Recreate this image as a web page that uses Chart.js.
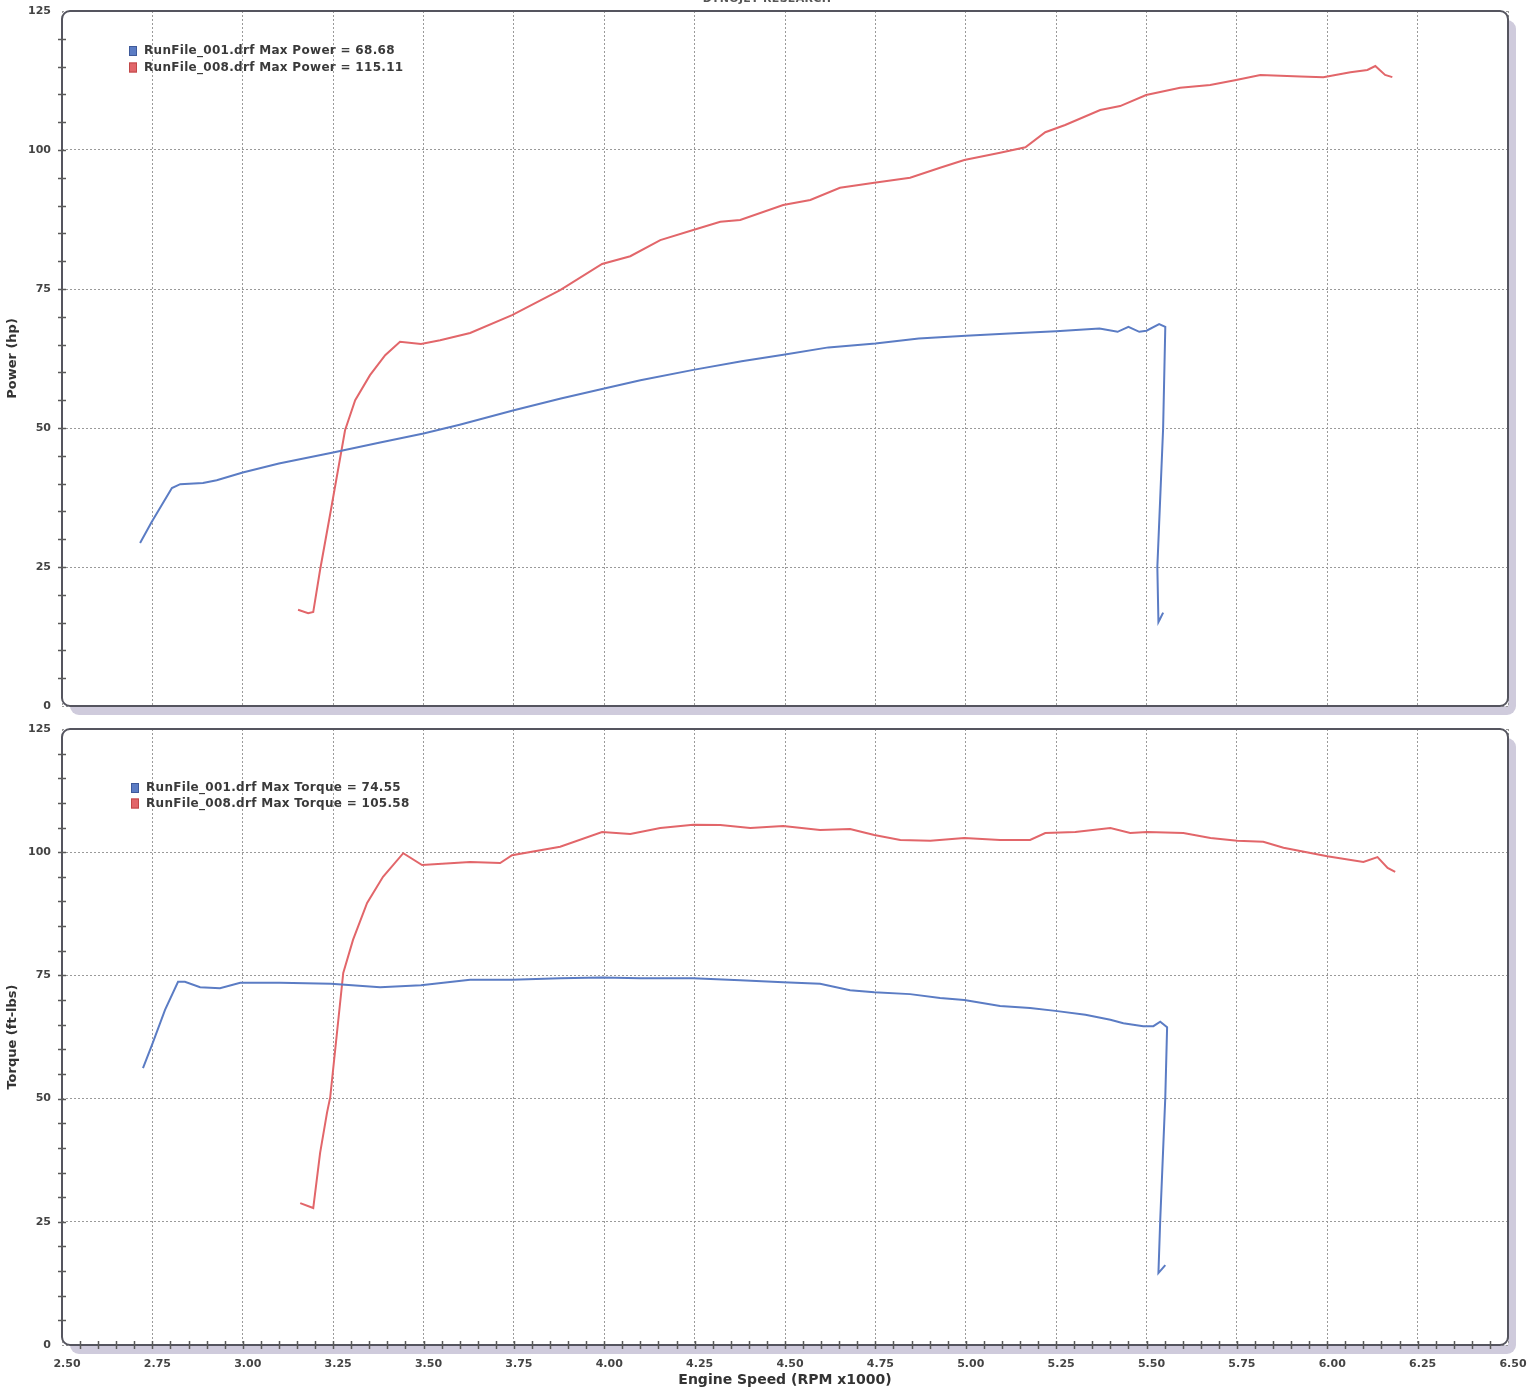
<!DOCTYPE html>
<html><head><meta charset="utf-8">
<script src="https://cdn.jsdelivr.net/npm/chart.js@4"></script>
<style>
html,body{margin:0;padding:0;background:#fff;}
#wrap{position:relative;width:1538px;height:1391px;overflow:hidden;background:#fff}
#c1{position:absolute;left:0;top:0}
#c2{position:absolute;left:0;top:716px}
</style></head><body>
<div id="wrap">
<canvas id="c1" width="1538" height="716" style="width:1538px;height:716px"></canvas>
<canvas id="c2" width="1538" height="675" style="width:1538px;height:675px"></canvas>
</div>
<script>
// ---------- DATA ----------
const runNames = ["RunFile_001.drf", "RunFile_008.drf"];
const maxPower = ["68.68", "115.11"];
const maxTorque = ["74.55", "105.58"];
const xTicks = [2.50,2.75,3.00,3.25,3.50,3.75,4.00,4.25,4.50,4.75,5.00,5.25,5.50,5.75,6.00,6.25,6.50];
const yTicks = [0,25,50,75,100,125];

// Run 001 power (hp)
const rpmP001 = [2.716,2.748,2.804,2.827,2.89,2.928,3.0,3.10,3.25,3.38,3.50,3.60,3.75,3.88,4.0,4.10,4.25,4.38,4.50,4.62,4.75,4.87,5.0,5.12,5.25,5.37,5.42,5.45,5.48,5.50,5.535,5.552,5.546,5.53,5.533,5.537,5.546];
const hp001   = [29.3,33.1,39.2,39.9,40.1,40.6,42.0,43.6,45.6,47.4,49.0,50.6,53.2,55.3,57.1,58.6,60.5,62.0,63.2,64.5,65.2,66.1,66.6,67.0,67.4,67.9,67.3,68.2,67.3,67.5,68.7,68.2,50.0,25.0,15.1,15.6,16.8];

// Run 008 power (hp)
const rpmP008 = [3.153,3.181,3.195,3.214,3.244,3.283,3.311,3.352,3.394,3.435,3.493,3.546,3.629,3.745,3.878,3.994,4.072,4.155,4.246,4.321,4.376,4.495,4.57,4.652,4.747,4.846,4.929,4.996,5.095,5.165,5.22,5.275,5.372,5.427,5.499,5.593,5.676,5.748,5.815,5.926,5.989,6.064,6.111,6.133,6.16,6.18];
const hp008   = [17.3,16.7,16.9,24.5,35.3,49.6,55.0,59.5,63.1,65.5,65.1,65.8,67.1,70.3,74.8,79.5,80.9,83.8,85.6,87.1,87.4,90.1,91.0,93.2,94.1,95.0,96.8,98.2,99.5,100.5,103.2,104.5,107.2,107.9,109.9,111.2,111.7,112.6,113.5,113.2,113.1,114.0,114.4,115.1,113.5,113.1];

// Run 001 torque (ft-lbs)
const rpmT001 = [2.724,2.749,2.785,2.821,2.84,2.882,2.937,2.993,3.103,3.244,3.38,3.493,3.629,3.745,3.878,3.994,4.1,4.246,4.376,4.495,4.597,4.68,4.747,4.846,4.929,4.996,5.095,5.178,5.248,5.331,5.40,5.436,5.491,5.519,5.538,5.557,5.552,5.538,5.533,5.552];
const tq001   = [56.2,60.9,68.0,73.7,73.7,72.6,72.4,73.5,73.5,73.3,72.6,73.0,74.1,74.1,74.4,74.55,74.4,74.4,74.0,73.6,73.3,72.0,71.6,71.2,70.4,70.0,68.8,68.4,67.8,67.0,66.0,65.3,64.7,64.7,65.6,64.5,50.3,25.4,14.6,16.2];

// Run 008 torque (ft-lbs)
const rpmT008 = [3.159,3.195,3.214,3.233,3.242,3.278,3.305,3.344,3.388,3.444,3.496,3.629,3.712,3.745,3.878,3.994,4.072,4.155,4.246,4.321,4.404,4.495,4.597,4.68,4.747,4.819,4.902,4.996,5.095,5.178,5.22,5.303,5.40,5.455,5.502,5.602,5.677,5.751,5.823,5.879,6.0,6.1,6.139,6.167,6.188];
const tq008   = [28.8,27.8,39.0,47.1,50.3,75.5,82.2,89.7,95.0,99.8,97.4,98.0,97.8,99.4,101.1,104.1,103.7,104.9,105.58,105.5,104.9,105.3,104.5,104.7,103.5,102.5,102.3,102.9,102.5,102.5,103.9,104.1,104.9,103.9,104.1,103.9,102.9,102.3,102.1,100.9,99.2,98.0,99.0,96.8,96.0];

// ---------- STYLE ----------
const BLUE = '#5b7cc4', RED = '#e2666a';
const FONT = '"DejaVu Sans", Verdana, sans-serif';
const pts = (xs, ys) => xs.map((x, i) => ({x, y: ys[i]}));

function rr(ctx, x, y, w, h, r){
  ctx.beginPath();
  ctx.moveTo(x+r, y); ctx.lineTo(x+w-r, y); ctx.arcTo(x+w, y, x+w, y+r, r);
  ctx.lineTo(x+w, y+h-r); ctx.arcTo(x+w, y+h, x+w-r, y+h, r);
  ctx.lineTo(x+r, y+h); ctx.arcTo(x, y+h, x, y+h-r, r);
  ctx.lineTo(x, y+r); ctx.arcTo(x, y, x+r, y, r); ctx.closePath();
}

function makePlugin(cfg){
  return {
    id: 'dynoFrame',
    beforeDraw(chart){
      const a = chart.chartArea, ctx = chart.ctx;
      ctx.save();
      ctx.fillStyle = '#cfcbdc';
      rr(ctx, a.left+8, a.top+9, a.right-a.left, a.bottom-a.top, 9); ctx.fill();
      ctx.fillStyle = '#ffffff';
      ctx.fillRect(a.left, a.top, a.right-a.left, a.bottom-a.top);
      ctx.restore();
    },
    beforeDatasetsDraw(chart){
      const a = chart.chartArea, ctx = chart.ctx;
      const ys = chart.scales.y, xs = chart.scales.x;
      ctx.save();
      ctx.strokeStyle = '#55555f'; ctx.lineWidth = 2;
      rr(ctx, a.left, a.top, a.right-a.left, a.bottom-a.top, 8); ctx.stroke();
      ctx.strokeStyle = '#5a5a5a'; ctx.lineWidth = 1.5;
      for (let k = 1; k < 25; k++){
        const py = Math.round(ys.getPixelForValue(k*5)) + 0.5;
        ctx.beginPath(); ctx.moveTo(a.left-4, py); ctx.lineTo(a.left+4, py); ctx.stroke();
      }
      if (cfg.xMinor){
        for (let k = 1; k < 80; k++){
          const px = Math.round(xs.getPixelForValue(2.5 + k*0.05)) + 0.5;
          ctx.beginPath(); ctx.moveTo(px, a.bottom-4); ctx.lineTo(px, a.bottom+4); ctx.stroke();
        }
      }
      ctx.restore();
    },
    afterDraw(chart){
      const ctx = chart.ctx;
      ctx.save();
      ctx.font = 'bold 12px ' + FONT;
      try { ctx.letterSpacing = '0.3px'; } catch(e) {}
      ctx.textBaseline = 'middle';
      chart.data.datasets.forEach((ds, i) => {
        const y = cfg.legY + i*cfg.legGap;
        ctx.fillStyle = ds.borderColor;
        ctx.fillRect(cfg.legX, y-5, 8, 10);
        ctx.strokeStyle = i === 0 ? '#3f5a9a' : '#c04848'; ctx.lineWidth = 1;
        ctx.strokeRect(cfg.legX+0.5, y-4.5, 7, 9);
        ctx.fillStyle = '#3a3a3a';
        ctx.fillText(ds.label, cfg.legX + 15, y);
      });
      if (cfg.title){
        ctx.font = 'bold 11px ' + FONT;
        ctx.textAlign = 'center';
        ctx.fillStyle = '#555';
        ctx.fillText(cfg.title, 767, -1);
      }
      ctx.restore();
    }
  };
}

function makeChart(id, datasets, yTitle, showX, cfg){
  return new Chart(document.getElementById(id), {
    type: 'scatter',
    data: { datasets },
    options: {
      responsive: false, animation: false, events: [],
      layout: { padding: { left: 0, right: 30, top: cfg.padTop, bottom: 0 } },
      plugins: { legend: { display: false }, tooltip: { enabled: false } },
      elements: { point: { radius: 0 }, line: { tension: 0, borderWidth: 2 } },
      scales: {
        x: {
          type: 'linear', min: 2.5, max: 6.5,
          afterBuildTicks: s => { s.ticks = xTicks.map(v => ({value: v})); },
          afterFit: s => { s.height = showX ? 46 : 10; s.paddingLeft = 0; s.paddingRight = 0; },
          grid: { color: '#9a9a9a', lineWidth: 1, drawTicks: false },
          border: { display: false, dash: [2, 2] },
          ticks: { display: showX, padding: 13, labelOffset: 5, maxRotation: 0, autoSkip: false,
                   color: '#444', font: { family: FONT, size: 11, weight: 'bold' },
                   callback: v => Number(v).toFixed(2) },
          title: { display: showX, text: 'Engine Speed (RPM x1000)', color: '#333',
                   font: { family: FONT, size: 14, weight: 'bold' }, padding: { top: 0, bottom: 2 } }
        },
        y: {
          type: 'linear', min: 0, max: 125,
          afterBuildTicks: s => { s.ticks = yTicks.map(v => ({value: v})); },
          afterFit: s => { s.width = 62; s.paddingTop = 0; s.paddingBottom = 0; },
          grid: { color: '#9a9a9a', lineWidth: 1, drawTicks: false },
          border: { display: false, dash: [2, 2] },
          ticks: { padding: 11, color: '#444', font: { family: FONT, size: 11, weight: 'bold' } },
          title: { display: true, text: yTitle, color: '#333',
                   font: { family: FONT, size: 13, weight: 'bold' }, padding: { top: 5, bottom: 0 } }
        }
      }
    },
    plugins: [makePlugin(cfg)]
  });
}

makeChart('c1', [
  { label: runNames[0] + ' Max Power = ' + maxPower[0], data: pts(rpmP001, hp001), showLine: true, borderColor: BLUE, backgroundColor: BLUE },
  { label: runNames[1] + ' Max Power = ' + maxPower[1], data: pts(rpmP008, hp008), showLine: true, borderColor: RED, backgroundColor: RED }
], 'Power (hp)', false, { padTop: 11, legX: 129, legY: 51, legGap: 16.5, xMinor: false, title: 'DYNOJET RESEARCH' });

makeChart('c2', [
  { label: runNames[0] + ' Max Torque = ' + maxTorque[0], data: pts(rpmT001, tq001), showLine: true, borderColor: BLUE, backgroundColor: BLUE },
  { label: runNames[1] + ' Max Torque = ' + maxTorque[1], data: pts(rpmT008, tq008), showLine: true, borderColor: RED, backgroundColor: RED }
], 'Torque (ft-lbs)', true, { padTop: 13, legX: 131, legY: 72, legGap: 15.5, xMinor: true, title: null });
</script>
</body></html>
